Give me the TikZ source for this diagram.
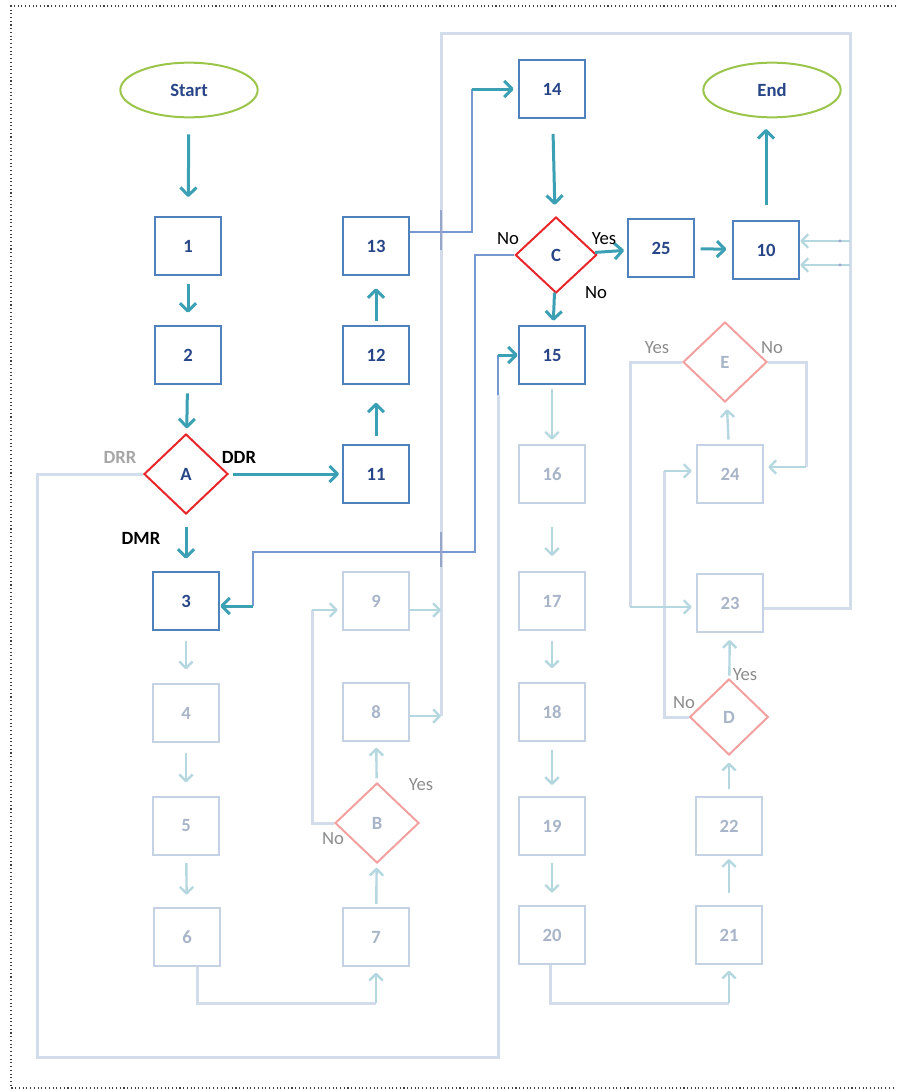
\documentclass[tikz,border=0pt]{standalone}
\usepackage{fontspec}
\setmainfont{Carlito}
\usetikzlibrary{shapes.geometric,arrows.meta,calc}
\definecolor{boxblue}{RGB}{79,129,189}
\definecolor{numblue}{RGB}{40,70,135}
\definecolor{fboxc}{RGB}{196,210,228}
\definecolor{fnum}{RGB}{168,180,200}
\definecolor{dred}{RGB}{232,38,43}
\definecolor{fred}{RGB}{242,160,160}
\definecolor{arrteal}{RGB}{60,160,180}
\definecolor{farrc}{RGB}{180,215,224}
\definecolor{flinec}{RGB}{210,220,235}
\definecolor{mlinec}{RGB}{118,152,208}
\definecolor{sgreen}{RGB}{155,197,74}
\definecolor{crossc}{RGB}{150,165,200}
\tikzset{
  dbox/.style={draw=boxblue, line width=1.5pt, minimum width=50pt, minimum height=44pt, inner sep=0pt, font=\fontsize{14}{16}\selectfont\bfseries, text=numblue, fill=white},
  fbx/.style={dbox, draw=fboxc, text=fnum},
  ddia/.style={diamond, draw=dred, line width=1.5pt, minimum width=63pt, minimum height=60pt, inner sep=0pt, font=\fontsize{14}{16}\selectfont\bfseries, text=numblue, fill=white},
  fdia/.style={ddia, draw=fred, text=fnum},
  term/.style={ellipse, draw=sgreen, line width=1.5pt, minimum width=103pt, minimum height=41pt, inner sep=0pt, font=\fontsize{14}{16}\selectfont\bfseries, text=numblue},
  arr/.style={draw=arrteal, line width=2.25pt, line join=round, -{Straight Barb[length=6pt,width=12pt,line join=round]}},
  farr/.style={draw=farrc, line width=1.8pt, line join=round, -{Straight Barb[length=5pt,width=10pt,line join=round]}},
  fln/.style={draw=flinec, line width=2.25pt},
  mln/.style={draw=mlinec, line width=1.8pt},
  lab/.style={font=\fontsize{14}{16}\selectfont, inner sep=0pt},
  blab/.style={lab, font=\fontsize{14}{16}\selectfont\bfseries},
}
\begin{document}
\begin{tikzpicture}[x=0.75pt,y=-0.75pt]
\useasboundingbox (0,0) rectangle (896,1092);
\draw[dotted, line width=0.8pt, black!75] (896,6) -- (11,6) -- (11,1088) -- (896,1088);

% terminals
\node[term] (start) at (189,90) {Start};
\node[term] (end) at (772,90) {End};
% dark boxes
\node[dbox] (n1) at (188,246) {1};
\node[dbox] (n2) at (188,355) {2};
\node[dbox] (n3) at (186,601) {3};
\node[dbox] (n11) at (376,474) {11};
\node[dbox] (n12) at (376,355) {12};
\node[dbox] (n13) at (376,246) {13};
\node[dbox] (n14) at (552,89) {14};
\node[dbox] (n15) at (552,355) {15};
\node[dbox] (n25) at (661,248) {25};
\node[dbox] (n10) at (766,250) {10};
% faint boxes
\node[fbx] (n4) at (186,713) {4};
\node[fbx] (n5) at (186,826) {5};
\node[fbx] (n6) at (187,937) {6};
\node[fbx] (n7) at (376,937) {7};
\node[fbx] (n8) at (376,712) {8};
\node[fbx] (n9) at (376,601) {9};
\node[fbx] (n16) at (552,474) {16};
\node[fbx] (n17) at (552,601) {17};
\node[fbx] (n18) at (552,712) {18};
\node[fbx] (n19) at (552,826) {19};
\node[fbx] (n20) at (552,935) {20};
\node[fbx] (n21) at (729,935) {21};
\node[fbx] (n22) at (729,826) {22};
\node[fbx] (n23) at (730,603) {23};
\node[fbx] (n24) at (730,474) {24};
% diamonds
\node[ddia] (A) at (186,474) {A};
\node[ddia, minimum width=61pt, minimum height=57pt] (C) at (556,255) {C};
\node[fdia] (E) at (725,362) {E};
\node[fdia] (B) at (377,823) {B};
\node[fdia, minimum width=59pt, minimum height=57pt] (D) at (729,717) {D};

% main teal arrows
\draw[arr, shorten <=12pt, shorten >=14pt] (start) -- (n1);
\draw[arr, shorten <=6pt, shorten >=9pt] (n1) -- (n2);
\draw[arr, shorten <=6pt, shorten >=4pt] (n2) -- (A);
\draw[arr, shorten <=9pt, shorten >=9pt] (A) -- (n3);
\draw[arr, shorten <=3pt, shorten >=2pt] (A) -- (n11);
\draw[arr, shorten <=6pt, shorten >=13pt] (n11) -- (n12);
\draw[arr, shorten <=3pt, shorten >=9pt] (n12) -- (n13);
\draw[arr, shorten <=11pt, shorten >=9pt] (n14) -- (C);
\draw[arr, shorten >=2pt] (C) -- (n25);
\draw[arr, shorten <=4pt, shorten >=4pt] (n25) -- (n10);
\draw[arr, shorten <=11pt, shorten >=8pt] (n10.north) -- (end.south -| n10.north);
\draw[arr, shorten >=3pt] (C) -- (n15);

% faint arrows
\draw[farr, shorten <=3pt, shorten >=3pt] (n15) -- (n16);
\draw[farr, shorten <=17pt, shorten >=11pt] (n16) -- (n17);
\draw[farr, shorten <=7pt, shorten >=10pt] (n17) -- (n18);
\draw[farr, shorten <=6pt, shorten >=8pt] (n18) -- (n19);
\draw[farr, shorten <=5pt, shorten >=9pt] (n19) -- (n20);
\draw[farr, shorten <=7pt, shorten >=10pt] (n3) -- (n4);
\draw[farr, shorten <=7pt, shorten >=10pt] (n4) -- (n5);
\draw[farr, shorten <=5pt, shorten >=9pt] (n5) -- (n6);
\draw[farr, shorten <=9pt, shorten >=2pt] (n21) -- (n22);
\draw[farr, shorten <=5pt, shorten >=5pt] (n22) -- (D);
\draw[farr, shorten <=2pt, shorten >=5pt] (D) -- (n23);
\draw[farr, shorten <=3pt, shorten >=6pt] (n24) -- (E);
\draw[farr, shorten <=2pt, shorten >=3pt] (n7) -- (B);
\draw[farr, shorten <=3pt, shorten >=4pt] (B) -- (n8);

% bottom loops
\coordinate (b6) at (197,1003);
\coordinate (b20) at (550,1003);
\draw[fln] (n6.south -| b6) -- (b6) -- (b6 -| n7.south);
\draw[farr, shorten >=4pt] (b6 -| n7.south) -- (n7.south);
\draw[fln] (n20.south -| b20) -- (b20) -- (b20 -| n21.south);
\draw[farr, shorten >=4pt] (b20 -| n21.south) -- (n21.south);

% B No -> 9
\coordinate (bn) at (312,610);
\draw[fln] (B.west) -- (B.west -| bn) -- (bn);
\draw[farr, shorten >=3pt] (bn) -- (bn -| n9.west);
% D No -> 24
\coordinate (dn) at (664,471);
\draw[fln] (D.west) -- (D.west -| dn) -- (dn);
\draw[farr, shorten >=3pt] (dn) -- (dn -| n24.west);
% E Yes -> 23
\coordinate (ey) at (630,607);
\draw[fln] (E.west) -- (E.west -| ey) -- (ey);
\draw[farr, shorten >=3pt] (ey) -- (ey -| n23.west);
% E No -> 24
\coordinate (en) at (806,467);
\draw[fln] (E.east) -- (E.east -| en) -- (en);
\draw[farr, shorten >=3pt] (en) -- (en -| n24.east);

% right big loop
\coordinate (r1) at (850,608);
\coordinate (r2) at (850,33);
\coordinate (r3) at (441,33);
\coordinate (r4) at (441,716);
\draw[fln] (n23.east |- r1) -- (r1) -- (r2) -- (r3) -- (r4);
\draw[farr] (n9.east |- 0,610) -- (r3 |- 0,610);
\draw[farr] (n8.east |- r4) -- (r4);
\coordinate (t1) at (850,241);
\coordinate (t2) at (850,265);
\draw[farr] (t1) -- (t1 -| n10.east);
\draw[farr] (t2) -- (t2 -| n10.east);
\fill[crossc] (840,241) circle (1.2pt) (840,265) circle (1.2pt);

% DRR loop to 15
\coordinate (d1) at (37,474);
\coordinate (d2) at (37,1057);
\coordinate (d3) at (498,1057);
\coordinate (d4) at (498,395);
\draw[fln] (A.west) -- (d1) -- (d2) -- (d3) -- (d4);
\draw[mln] (d4) -- (d4 |- n15.west);
\draw[arr] (d4 |- n15.west) -- (n15.west);

% 13 -> 14
\coordinate (p13) at (472,232);
\draw[mln] (n13.east |- p13) -- (p13) -- (p13 |- n14.west);
\draw[arr, shorten >=3pt] (p13 |- n14.west) -- (n14.west);

% C No -> 3
\coordinate (c1) at (475,255);
\coordinate (c2) at (475,552);
\coordinate (c3) at (253,552);
\coordinate (c4) at (253,606);
\draw[mln] (C.west) -- (c1) -- (c2) -- (c3) -- (c4);
\draw[arr] (c4) -- (c4 -| n3.east);

% crossing marks
\draw[crossc, line width=2pt] (441,210) -- (441,250);
\draw[crossc, line width=2pt] (441,532) -- (441,567);

% labels
\node[blab, text=black!35] (lDRR) at (120,457) {DRR};
\node[blab] (lDDR) at (239,457) {DDR};
\node[blab] (lDMR) at (141,538) {DMR};
\node[lab] (lCn) at (508,239) {No};
\node[lab] (lCy) at (604,239) {Yes};
\node[lab] (lCn2) at (596,293) {No};
\node[lab, text=black!45] (lEy) at (657,348) {Yes};
\node[lab, text=black!45] (lEn) at (772,348) {No};
\node[lab, text=black!45] (lBy) at (421,785) {Yes};
\node[lab, text=black!45] (lBn) at (333,839) {No};
\node[lab, text=black!45] (lDy) at (745,675) {Yes};
\node[lab, text=black!45] (lDn) at (684,703) {No};
\end{tikzpicture}
\end{document}
